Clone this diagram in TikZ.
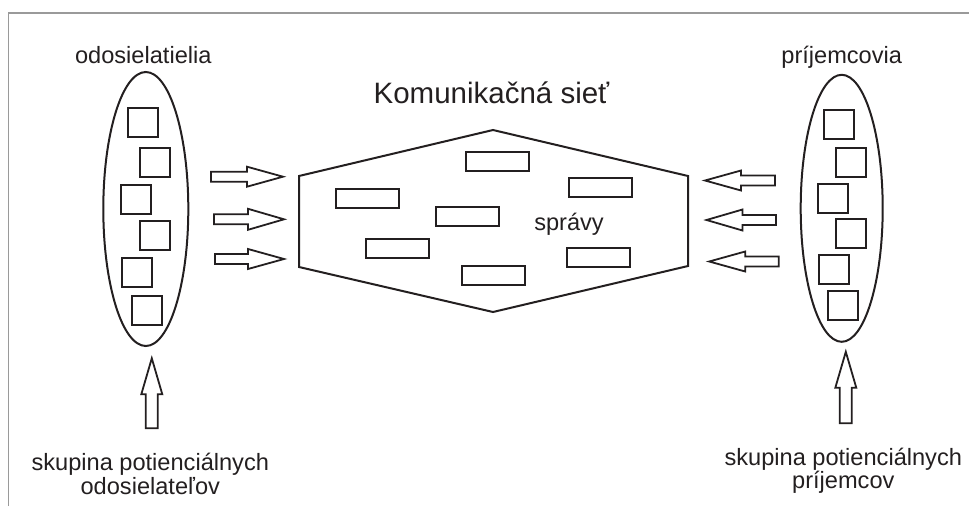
\documentclass[tikz,border=0pt]{standalone}
\usepackage{fontspec}
\setmainfont{Liberation Sans}
\usetikzlibrary{shapes.geometric}
\definecolor{ink}{HTML}{231F20}
\definecolor{framegray}{HTML}{9A9A9A}
\begin{document}
\begin{tikzpicture}[x=1pt,y=-1pt,
  outline/.style={draw=ink,line width=2pt,line join=miter},
  group/.style={ellipse,outline,inner sep=0pt},
  member/.style={rectangle,outline,inner sep=0pt,minimum width=30pt,minimum height=29pt},
  message/.style={rectangle,outline,inner sep=0pt,minimum width=63pt,minimum height=19pt},
  label/.style={text=ink,inner sep=0pt,anchor=base,font=\fontsize{23.6}{24}\selectfont},
  title/.style={text=ink,inner sep=0pt,anchor=base,font=\fontsize{29.5}{30}\selectfont},
  pics/blockarrow/.style args={#1/#2/#3}{code={%
    % #1 total length, #2 half shaft width, #3 half head width
    \draw[outline,line width=1.8pt] (0,-#2) -- (#1-36,-#2) -- (#1-36,-#3) -- (#1,0)
      -- (#1-36,#3) -- (#1-36,#2) -- (0,#2) -- cycle;}},
]
\useasboundingbox (0,0) rectangle (969,506);

% frame along the top and left edges
\draw[framegray,line width=1.3pt] (8.3,506) -- (8.3,13) -- (969,13);

% senders
\node[label] (sendlabel) at (143.3,63.3) {odosielatielia};
\node[group,minimum width=85pt,minimum height=274pt] (senders) at (145.8,209) {};
\node[member] (s1) at (143.3,122.5) {};
\node[member] (s2) at (155.2,162.7) {};
\node[member] (s3) at (136.0,199.3) {};
\node[member] (s4) at (155.2,235.7) {};
\node[member] (s5) at (137.3,272.3) {};
\node[member] (s6) at (146.8,310.2) {};

% receivers
\node[label] (recvlabel) at (841.7,63.3) {príjemcovia};
\node[group,minimum width=82pt,minimum height=267pt] (receivers) at (841.7,208.3) {};
\node[member] (r1) at (839.2,124.2) {};
\node[member] (r2) at (850.8,162.7) {};
\node[member] (r3) at (832.7,198.3) {};
\node[member] (r4) at (850.8,233.7) {};
\node[member] (r5) at (833.5,269.3) {};
\node[member] (r6) at (843.2,305.0) {};

% communication network
\node[title] (nettitle) at (491.5,103.3) {Komunikačná sieť};
\coordinate (h1) at (299,176);
\coordinate (h2) at (493,130);
\coordinate (h3) at (688,176);
\coordinate (h4) at (688,266);
\coordinate (h5) at (493,312);
\coordinate (h6) at (299,267);
\draw[outline] (h1) -- (h2) -- (h3) -- (h4) -- (h5) -- (h6) -- cycle;

\node[message] (m1) at (497.7,161.3) {};
\node[message] (m2) at (600.8,187.5) {};
\node[message] (m3) at (367.0,198.8) {};
\node[message] (m4) at (467.0,216.7) {};
\node[message] (m5) at (397.3,248.3) {};
\node[message] (m6) at (598.2,257.5) {};
\node[message] (m7) at (493.7,275.8) {};
\node[label] (msglabel) at (569,230) {správy};

% arrows from the senders into the network
\pic at (211,176.7) {blockarrow=72/5/10};
\pic at (214,219.3) {blockarrow=70/5/10.5};
\pic at (215,259.0) {blockarrow=69/5/10};

% arrows from the receivers into the network
\pic[rotate=180] at (775,180.5) {blockarrow=70/5/10};
\pic[rotate=180] at (776,220.0) {blockarrow=69.5/5/10.5};
\pic[rotate=180] at (778.7,261.5) {blockarrow=69.5/5/10};

% potential groups feeding the two sides
\pic[rotate=90] at (151.8,428.3) {blockarrow=70/6/10.5};
\pic[rotate=90] at (845.8,423.3) {blockarrow=71.5/6/10.5};
\node[label] (sendpool) at (150.3,470.7) {skupina potienciálnych};
\node[label] (sendpool2) at (150.3,494.0) {odosielateľov};
\node[label] (recvpool) at (843.3,465.0) {skupina potienciálnych};
\node[label] (recvpool2) at (843.3,488.5) {príjemcov};
\end{tikzpicture}
\end{document}
